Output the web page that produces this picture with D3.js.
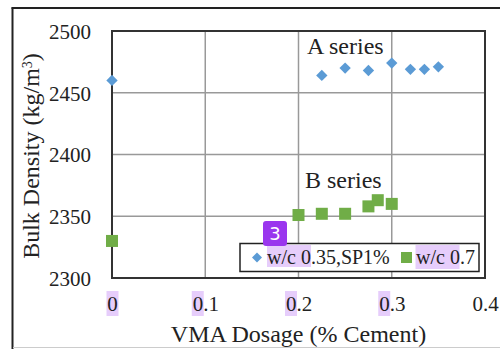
<!DOCTYPE html>
<html><head><meta charset="utf-8">
<script src="https://cdn.jsdelivr.net/npm/d3@7"></script>
<style>body{margin:0;background:#fff}svg{display:block}text{font-family:"Liberation Serif","Times New Roman",serif;fill:#222}</style>
</head><body><svg id="c" width="500" height="349"></svg>
<script>
const xTicks = [0, 0.1, 0.2, 0.3, 0.4];
const yTicks = [2300, 2350, 2400, 2450, 2500];
const seriesNames = ["w/c 0.35,SP1%", "w/c 0.7"];
const aX = [0, 0.225, 0.25, 0.275, 0.30, 0.32, 0.335, 0.35];
const aY = [2460, 2464, 2470, 2468, 2474, 2469, 2469, 2471];
const bX = [0, 0.20, 0.225, 0.25, 0.275, 0.285, 0.30];
const bY = [2330, 2351, 2352, 2352, 2358, 2363, 2360];
const seriesLabels = ["A series", "B series"];

const svg = d3.select("#c");
const L = 112, R = 485, T = 31, B = 278;
const x = d3.scaleLinear().domain([0, 0.4]).range([L, R]);
const y = d3.scaleLinear().domain([2300, 2500]).range([B, T]);

// outer frame
svg.append("line").attr("x1",12.5).attr("x2",12.5).attr("y1",7.5).attr("y2",349).attr("stroke","#222").attr("stroke-width",2);
svg.append("line").attr("x1",11.5).attr("x2",500).attr("y1",8).attr("y2",8).attr("stroke","#222").attr("stroke-width",2);
svg.append("line").attr("x1",13).attr("x2",500).attr("y1",347.5).attr("y2",347.5).attr("stroke","#ccc").attr("stroke-width",1);

// grid
svg.append("g").selectAll("line").data(xTicks.slice(1,-1)).join("line")
  .attr("x1",d=>x(d)).attr("x2",d=>x(d)).attr("y1",T).attr("y2",B).attr("stroke","#999").attr("stroke-width",1.5);
svg.append("g").selectAll("line").data(yTicks.slice(1,-1)).join("line")
  .attr("x1",L).attr("x2",R).attr("y1",d=>y(d)).attr("y2",d=>y(d)).attr("stroke","#999").attr("stroke-width",1.5);
svg.append("rect").attr("x",L).attr("y",T).attr("width",R-L).attr("height",B-T).attr("fill","none").attr("stroke","#333").attr("stroke-width",2);

// x tick highlights (purple annotation)
const hl = "#e6cdfb";
svg.append("g").selectAll("rect").data(xTicks.slice(0,4)).join("rect")
  .attr("x",d=>x(d)-(d===0?5.5:(x(d)- (x(d)-13.5)))) .attr("y",291).attr("width",12).attr("height",25).attr("fill",hl);

// axes
const xAxis = d3.axisBottom(x).tickValues(xTicks).tickSize(0).tickFormat(d=>d===0?"0":d3.format(".1f")(d));
const gx = svg.append("g").attr("transform",`translate(0,${B})`).call(xAxis);
gx.select(".domain").remove();
gx.selectAll("text").attr("font-size",21).attr("dy",0).attr("y",33).style("font-family","Liberation Serif").attr("fill","#222");

const yAxis = d3.axisLeft(y).tickValues(yTicks).tickSize(0).tickFormat(d3.format("d"));
const gy = svg.append("g").attr("transform",`translate(${L},0)`).call(yAxis);
gy.select(".domain").remove();
gy.selectAll("text").attr("font-size",21).attr("x",-21).attr("dy","0.35em").style("font-family","Liberation Serif").attr("fill","#222");

// axis titles
svg.append("text").attr("x",298.5).attr("y",342).attr("text-anchor","middle").attr("font-size",24).text("VMA Dosage (% Cement)");
svg.append("text").attr("transform","translate(39,156) rotate(-90)").attr("text-anchor","middle").attr("font-size",24)
  .html('Bulk Density (kg/m<tspan baseline-shift="super" font-size="14">3</tspan>)');

// series
const aData = aX.map((v,i)=>({x:v,y:aY[i]}));
const bData = bX.map((v,i)=>({x:v,y:bY[i]}));
svg.append("g").selectAll("path").data(aData).join("path")
  .attr("d", d3.symbol(d3.symbolSquare, 64)).attr("transform",d=>`translate(${x(d.x)},${y(d.y)}) rotate(45)`).attr("fill","#5B9BD5");
svg.append("g").selectAll("rect").data(bData).join("rect")
  .attr("x",d=>x(d.x)-6).attr("y",d=>y(d.y)-6).attr("width",12).attr("height",12).attr("fill","#70AD47");

// series labels
svg.append("text").attr("x",307).attr("y",54).attr("font-size",24).text(seriesLabels[0]);
svg.append("text").attr("x",305).attr("y",188).attr("font-size",24).text(seriesLabels[1]);

// legend
svg.append("rect").attr("x",240).attr("y",243.5).attr("width",239).attr("height",28).attr("fill","#fff").attr("stroke","#222").attr("stroke-width",1.5);
svg.append("rect").attr("x",267).attr("y",245).attr("width",44).attr("height",22).attr("fill",hl);
svg.append("rect").attr("x",415.5).attr("y",245).attr("width",44).attr("height",24).attr("fill",hl);
svg.append("path").attr("d", d3.symbol(d3.symbolSquare, 50)).attr("transform","translate(257,257.5) rotate(45)").attr("fill","#5B9BD5");
svg.append("text").attr("x",267).attr("y",264).attr("font-size",20).text(seriesNames[0]);
svg.append("rect").attr("x",401).attr("y",252).attr("width",11).attr("height",11).attr("fill","#70AD47");
svg.append("text").attr("x",416).attr("y",264).attr("font-size",20).text(seriesNames[1]);

// badge
svg.append("rect").attr("x",263).attr("y",221).attr("width",24).attr("height",25).attr("rx",3).attr("fill","#9a36ee");
svg.append("text").attr("x",275).attr("y",240).attr("text-anchor","middle").attr("font-size",18).style("font-family","DejaVu Sans").style("fill","#fff").text("3");
</script></body></html>
